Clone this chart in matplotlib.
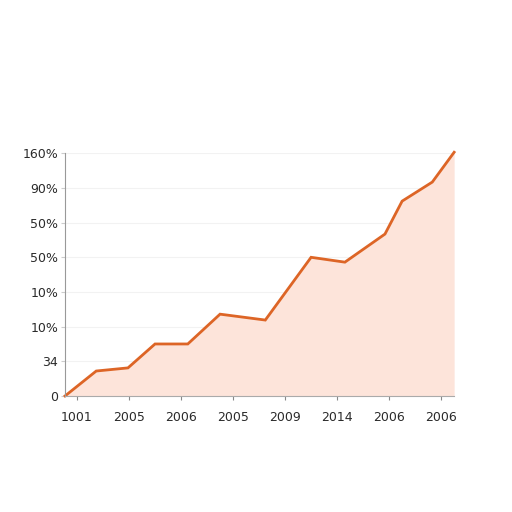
import matplotlib.pyplot as plt
import numpy as np

# values (y in tick-step units)
x_vals = [-0.23, 0.37, 0.98, 1.5, 2.13, 2.75, 3.62, 4.5, 5.15, 5.92, 6.25, 6.83, 7.25]
y_vals = [0.0, 0.72, 0.81, 1.5, 1.5, 2.36, 2.19, 4.0, 3.86, 4.67, 5.62, 6.17, 7.03]

x_labels = ['1001', '2005', '2006', '2005', '2009', '2014', '2006', '2006']
y_labels = ['0', '34', '10%', '10%', '50%', '50%', '90%', '160%']

line_color = '#DD6526'
fill_color = '#FDE4DA'

fig = plt.figure(figsize=(5.12, 5.12), dpi=100)
ax = fig.add_axes([0.127, 0.2266, 0.76, 0.474])

ax.fill_between(x_vals, y_vals, 0, color=fill_color, linewidth=0)
ax.plot(x_vals, y_vals, color=line_color, linewidth=2.0, solid_joinstyle='miter',
        clip_on=False)

ax.set_xlim(-0.23, 7.25)
ax.set_ylim(0, 7)

ax.set_xticks(range(len(x_labels)))
ax.set_xticklabels(x_labels)
ax.set_yticks(range(len(y_labels)))
ax.set_yticklabels(y_labels)

ax.grid(axis='y', color='#f2f2f2', linewidth=0.8)
ax.set_axisbelow(True)

for s in ['top', 'right']:
    ax.spines[s].set_visible(False)
ax.spines['left'].set_color('#999999')
ax.spines['bottom'].set_color('#aaaaaa')
ax.tick_params(axis='both', labelsize=9, colors='#2a2a2a', length=3)
ax.tick_params(axis='x', color='#888888', pad=8)
ax.tick_params(axis='y', color='#cccccc', pad=2)

fig.savefig('out.png', dpi=100)
